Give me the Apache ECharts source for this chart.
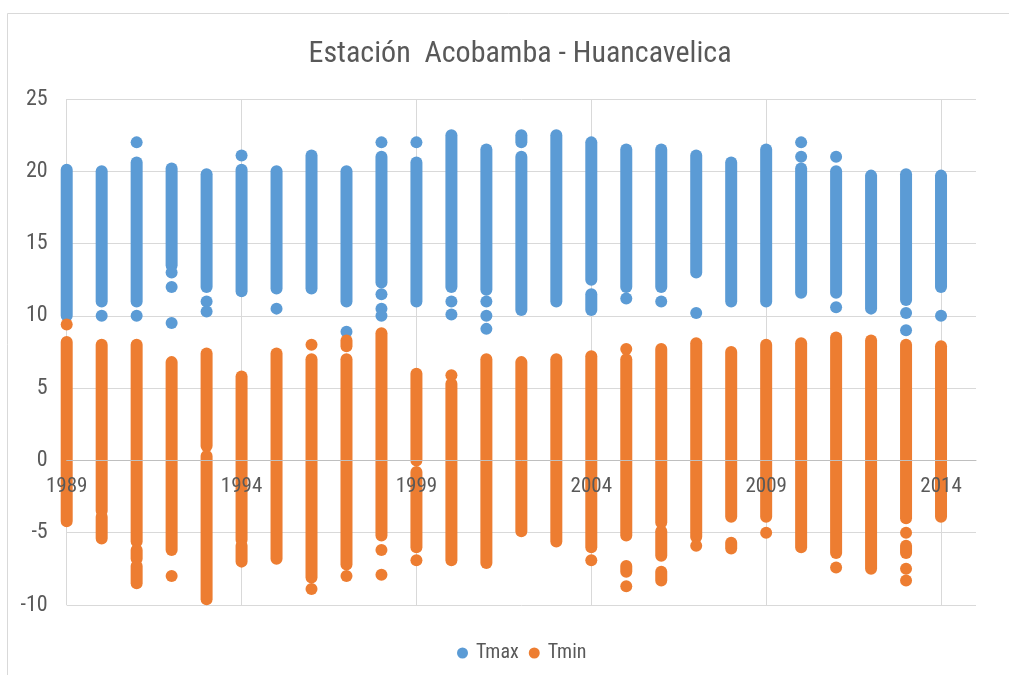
<!DOCTYPE html>
<html>
<head>
<meta charset="utf-8">
<script src="https://cdn.jsdelivr.net/npm/echarts@6/dist/echarts.min.js"></script>
<style>
  html, body { margin: 0; padding: 0; background: #fff; }
  #chart { width: 1009px; height: 675px; }
</style>
</head>
<body>
<div id="chart"></div>
<script>
// ---- Data (values in °C) ----
const titleText = 'Estación  Acobamba - Huancavelica';
const years = [1989, 1990, 1991, 1992, 1993, 1994, 1995, 1996, 1997, 1998, 1999, 2000, 2001,
               2002, 2003, 2004, 2005, 2006, 2007, 2008, 2009, 2010, 2011, 2012, 2013, 2014];
const xTickYears = [1989, 1994, 1999, 2004, 2009, 2014];
const yTicks = [-10, -5, 0, 5, 10, 15, 20, 25];

// Each year: list of [low, high] runs of densely packed daily points (a single point is [v, v])
const tmaxRuns = [
  [[10.0, 20.1]],
  [[11.0, 20.0], [10.0, 10.0]],
  [[11.0, 20.6], [22.0, 22.0], [10.0, 10.0]],
  [[13.5, 20.2], [13.0, 13.0], [12.0, 12.0], [9.5, 9.5]],
  [[12.0, 19.8], [11.0, 11.0], [10.3, 10.3]],
  [[11.7, 20.1], [21.1, 21.1]],
  [[11.9, 20.0], [10.5, 10.5]],
  [[11.9, 21.1]],
  [[11.0, 20.0], [8.9, 8.9]],
  [[12.3, 21.0], [22.0, 22.0], [11.5, 11.5], [10.5, 10.5], [10.0, 10.0]],
  [[11.0, 20.6], [22.0, 22.0]],
  [[12.0, 22.5], [11.0, 11.0], [10.1, 10.1]],
  [[11.8, 21.5], [11.0, 11.0], [10.0, 10.0], [9.1, 9.1]],
  [[10.4, 21.0], [22.0, 22.5]],
  [[11.0, 22.5]],
  [[12.5, 22.0], [10.4, 11.5]],
  [[12.0, 21.5], [11.2, 11.2]],
  [[12.0, 21.5], [11.0, 11.0]],
  [[13.0, 21.1], [10.2, 10.2]],
  [[11.0, 20.6]],
  [[11.0, 21.5]],
  [[11.6, 20.2], [21.0, 21.0], [22.0, 22.0]],
  [[11.6, 20.0], [21.0, 21.0], [10.6, 10.6]],
  [[10.5, 19.7]],
  [[11.1, 19.8], [10.2, 10.2], [9.0, 9.0]],
  [[12.0, 19.7], [10.0, 10.0]]
];

const tminRuns = [
  [[-4.2, 8.2], [9.4, 9.4]],
  [[-3.5, 8.0], [-5.4, -3.9]],
  [[-5.6, 8.0], [-6.8, -6.2], [-8.5, -7.3]],
  [[-6.2, 6.8], [-8.0, -8.0]],
  [[1.0, 7.4], [-9.6, 0.3]],
  [[-5.5, 5.8], [-7.0, -5.9]],
  [[-6.8, 7.4]],
  [[-8.1, 7.0], [8.0, 8.0], [-8.9, -8.9]],
  [[-7.2, 7.0], [7.9, 8.3], [-8.0, -8.0]],
  [[-5.2, 8.8], [-6.2, -6.2], [-7.9, -7.9]],
  [[0.0, 6.0], [-6.0, -0.8], [-6.9, -6.9]],
  [[-6.9, 5.3], [5.9, 5.9]],
  [[-7.1, 7.0]],
  [[-4.9, 6.8]],
  [[-5.6, 7.0]],
  [[-6.0, 7.2], [-6.9, -6.9]],
  [[-5.2, 7.0], [7.7, 7.7], [-7.7, -7.3], [-8.7, -8.7]],
  [[-4.3, 7.7], [-6.6, -4.9], [-8.3, -7.7]],
  [[-5.3, 8.1], [-5.9, -5.9]],
  [[-3.9, 7.5], [-6.1, -5.7]],
  [[-3.9, 8.0], [-5.0, -5.0]],
  [[-6.0, 8.1]],
  [[-6.4, 8.5], [-7.4, -7.4]],
  [[-7.5, 8.3]],
  [[-4.0, 8.0], [-5.0, -5.0], [-6.4, -5.9], [-7.5, -7.5], [-8.3, -8.3]],
  [[-3.9, 7.9]]
];

const seriesNames = ['Tmax', 'Tmin'];
const seriesColors = ['#5B9BD5', '#ED7D31'];

// ---- Build chart ----
const baseYear = years[0];
function toItems(runs) {
  const out = [];
  runs.forEach((list, i) => {
    const x = years[i] - baseYear;
    list.forEach(r => out.push([x, r[0], r[1]]));
  });
  return out;
}
const DOT = 12;
function renderRun(params, api) {
  const x = api.value(0), lo = api.value(1), hi = api.value(2);
  const pHi = api.coord([x, hi]);
  const pLo = api.coord([x, lo]);
  const r = DOT / 2;
  return {
    type: 'rect',
    shape: { x: pHi[0] - r, y: pHi[1] - r, width: DOT, height: (pLo[1] - pHi[1]) + DOT, r: r },
    style: { fill: api.visual('color') }
  };
}

const GRID = { left: 66.7, right: 33, top: 99, bottom: 70 };
const plotH = 675 - GRID.top - GRID.bottom;
const yMin = yTicks[0], yMax = yTicks[yTicks.length - 1];
// place the year axis where the value axis crosses 0, as in the reference
const xAxisOffset = -((0 - yMin) / (yMax - yMin)) * plotH;
const xMax = years[years.length - 1] - baseYear + 1;

const FONT = "'Liberation Sans Narrow', 'Arial Narrow', 'Roboto Condensed', Roboto, 'Liberation Sans', sans-serif";
const chart = echarts.init(document.getElementById('chart'), null, { renderer: 'canvas' });
chart.setOption({
  animation: false,
  backgroundColor: '#ffffff',
  title: {
    text: titleText,
    left: 515,
    textAlign: 'center',
    top: 33,
    textStyle: { fontFamily: FONT, fontSize: 30, fontWeight: 'normal', color: '#595959', lineHeight: 32 }
  },
  graphic: [{
    type: 'rect',
    shape: { x: 7.5, y: 13.5, width: 1100, height: 800 },
    style: { fill: 'none', stroke: '#D9D9D9', lineWidth: 1 },
    silent: true, z: -10
  }],
  legend: {
    data: seriesNames.map((n, i) => ({ name: n, icon: 'circle', itemStyle: { color: seriesColors[i] } })),
    left: 452,
    top: 638,
    itemWidth: 11, itemHeight: 11, itemGap: 10,
    textStyle: { fontFamily: FONT, fontSize: 20, color: '#595959', padding: [0, 0, 0, 3] }
  },
  grid: { left: GRID.left, right: GRID.right, top: GRID.top, bottom: GRID.bottom, containLabel: false },
  xAxis: [
    { // gridlines, behind the marks
      type: 'value', position: 'bottom', min: 0, max: xMax, interval: 5, z: 0,
      axisLine: { show: false }, axisTick: { show: false }, axisLabel: { show: false },
      splitLine: { show: true, showMaxLine: false, lineStyle: { color: '#D9D9D9', width: 1 } }
    },
    { // axis line and year labels at y = 0, drawn above the marks
      type: 'value', position: 'bottom', min: 0, max: xMax, interval: 5, z: 10,
      offset: xAxisOffset,
      axisLine: { show: true, onZero: false, lineStyle: { color: '#BFBFBF', width: 1 } },
      axisTick: { show: false },
      splitLine: { show: false },
      axisLabel: {
        margin: 16, fontFamily: FONT, fontSize: 21, color: '#595959',
        showMaxLabel: false,
        formatter: v => (xTickYears.indexOf(baseYear + v) >= 0 ? String(baseYear + v) : '')
      }
    }
  ],
  yAxis: {
    type: 'value',
    min: yMin, max: yMax, interval: 5,
    axisLine: { show: false },
    axisTick: { show: false },
    axisLabel: { margin: 19, fontFamily: FONT, fontSize: 22, color: '#595959' },
    splitLine: { show: true, lineStyle: { color: '#D9D9D9', width: 1 } }
  },
  series: [
    { name: seriesNames[0], type: 'custom', renderItem: renderRun, itemStyle: { color: seriesColors[0] },
      xAxisIndex: 0, encode: { x: 0, y: [1, 2] }, data: toItems(tmaxRuns), z: 2 },
    { name: seriesNames[1], type: 'custom', renderItem: renderRun, itemStyle: { color: seriesColors[1] },
      xAxisIndex: 0, encode: { x: 0, y: [1, 2] }, data: toItems(tminRuns), z: 3 }
  ]
});
</script>
</body>
</html>
